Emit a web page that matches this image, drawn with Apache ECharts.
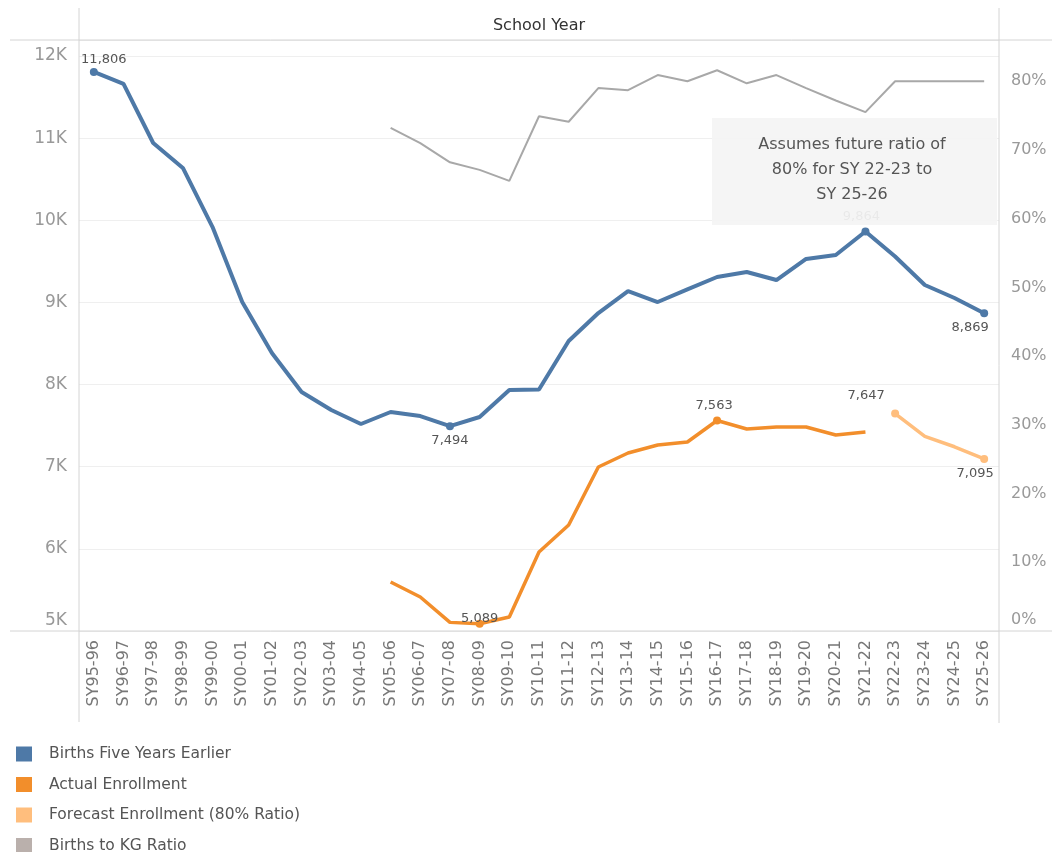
<!DOCTYPE html>
<html>
<head>
<meta charset="utf-8">
<script src="https://cdn.jsdelivr.net/npm/echarts@6/dist/echarts.min.js"></script>
<style>
html,body{margin:0;padding:0;background:#fff;}
#c{width:1052px;height:852px;}
</style>
</head>
<body>
<div id="c"></div>
<script>
var categories = ['SY95-96','SY96-97','SY97-98','SY98-99','SY99-00','SY00-01','SY01-02','SY02-03','SY03-04','SY04-05','SY05-06','SY06-07','SY07-08','SY08-09','SY09-10','SY10-11','SY11-12','SY12-13','SY13-14','SY14-15','SY15-16','SY16-17','SY17-18','SY18-19','SY19-20','SY20-21','SY21-22','SY22-23','SY23-24','SY24-25','SY25-26'];
var births = [11806,11660,10941,10637,9918,9005,8384,7910,7690,7520,7666,7617,7494,7605,7934,7940,8530,8871,9139,9005,9160,9310,9371,9273,9529,9578,9864,9559,9212,9054,8869];
var actual = [null,null,null,null,null,null,null,null,null,null,5597,5414,5105,5089,5170,5962,6290,6997,7167,7264,7301,7563,7459,7483,7483,7386,7423,null,null,null,null];
var forecast = [null,null,null,null,null,null,null,null,null,null,null,null,null,null,null,null,null,null,null,null,null,null,null,null,null,null,null,7647,7370,7243,7095];
var ratio = [null,null,null,null,null,null,null,null,null,null,0.732,0.710,0.682,0.671,0.655,0.749,0.741,0.790,0.787,0.809,0.800,0.816,0.797,0.809,0.790,0.772,0.755,0.80,0.80,0.80,0.80];
var leftTicks = [5000,6000,7000,8000,9000,10000,11000,12000];
var rightTicks = [0,0.1,0.2,0.3,0.4,0.5,0.6,0.7,0.8];
var seriesNames = ['Births Five Years Earlier','Actual Enrollment','Forecast Enrollment (80% Ratio)','Births to KG Ratio'];
var annotationText = 'Assumes future ratio of\n80% for SY 22-23 to\nSY 25-26';
var headerText = 'School Year';

// label placements (style only)
var birthsLabels = {0:{position:'top',offset:[10,2]},12:{position:'bottom',offset:[0,0]},26:{position:'top',offset:[-4,0]},30:{position:'bottom',offset:[-14,0]}};
var actualLabels = {13:{position:'top',offset:[0,9]},21:{position:'top',offset:[-3,0]}};
var forecastLabels = {27:{position:'top',offset:[-29,-3]},30:{position:'bottom',offset:[-9,0]}};

var fmt = function(v){ return v.toLocaleString('en-US'); };
var labelFont = {fontFamily:'DejaVu Sans',fontSize:13,color:'#555'};

function build(arr, labels, color){
  return arr.map(function(v,i){
    if (v === null) return null;
    if (labels[i]) {
      return {value:v, symbolSize:8, itemStyle:{color:color},
        label:Object.assign({show:true, formatter:function(p){return fmt(p.value);}, distance:4}, labelFont, labels[i])};
    }
    return v;
  });
}

var isMult = function(v, step){ return Math.abs(v/step - Math.round(v/step)) < 1e-6; };

var chart = echarts.init(document.getElementById('c'), null, {renderer:'canvas'});
var gridLeft = 79, gridRight = 999, gridTop = 40, gridBottom = 631;
var lineColor = '#d4d4d4';

chart.setOption({
  animation:false,
  backgroundColor:'#fff',
  grid:{left:gridLeft, right:1052-gridRight, top:gridTop, bottom:852-gridBottom, containLabel:false},
  xAxis:{
    type:'category', data:categories, boundaryGap:true,
    axisLine:{show:false}, axisTick:{show:false},
    axisLabel:{interval:0, rotate:90, margin:9, fontFamily:'DejaVu Sans', fontSize:16, color:'#777'}
  },
  yAxis:[{
    type:'value', min:5000, max:12195, interval:1000, position:'left',
    axisLine:{show:false}, axisTick:{show:false},
    splitLine:{show:true, lineStyle:{color:'#efefef', width:1}},
    axisLabel:{margin:12, fontFamily:'DejaVu Sans', fontSize:17, color:'#999',
      formatter:function(v){ if(!isMult(v,1000)) return ''; var s=(v/1000)+'K'; return v===leftTicks[0] ? '{m|'+s+'}' : s; },
      rich:{m:{fontFamily:'DejaVu Sans', fontSize:17, color:'#999', padding:[0,0,20,0]}}}
  },{
    type:'value', min:0, max:0.86, interval:0.1, position:'right',
    axisLine:{show:false}, axisTick:{show:false}, splitLine:{show:false},
    axisLabel:{margin:12, fontFamily:'DejaVu Sans', fontSize:16, color:'#999',
      formatter:function(v){ if(!isMult(v,0.1)) return ''; var s=Math.round(v*100)+'%'; return v===rightTicks[0] ? '{m|'+s+'}' : s; },
      rich:{m:{fontFamily:'DejaVu Sans', fontSize:16, color:'#999', padding:[0,0,22,0]}}}
  }],
  legend:{
    orient:'vertical', left:16, top:746, height:110, padding:0, itemWidth:16, itemHeight:15, itemGap:14.5,
    icon:'rect',
    textStyle:{fontFamily:'DejaVu Sans', fontSize:15.5, color:'#555', padding:[0,0,0,12]},
    data:[
      {name:seriesNames[0], itemStyle:{color:'#4e79a7'}},
      {name:seriesNames[1], itemStyle:{color:'#f28e2b'}},
      {name:seriesNames[2], itemStyle:{color:'#ffbe7d'}},
      {name:seriesNames[3], itemStyle:{color:'#bab0ac'}}
    ]
  },
  series:[
    {name:seriesNames[3], type:'line', yAxisIndex:1, data:ratio, symbol:'circle', symbolSize:0, showAllSymbol:true,
      lineStyle:{color:'#a8a8a8', width:2}, itemStyle:{color:'#bab0ac'}, z:2},
    {name:seriesNames[1], type:'line', yAxisIndex:0, data:build(actual, actualLabels, '#f28e2b'), symbol:'circle', symbolSize:0, showAllSymbol:true,
      lineStyle:{color:'#f28e2b', width:3.5}, itemStyle:{color:'#f28e2b'}, z:3},
    {name:seriesNames[2], type:'line', yAxisIndex:0, data:build(forecast, forecastLabels, '#ffbe7d'), symbol:'circle', symbolSize:0, showAllSymbol:true,
      lineStyle:{color:'#ffbe7d', width:3.5}, itemStyle:{color:'#ffbe7d'}, z:3},
    {name:seriesNames[0], type:'line', yAxisIndex:0, data:build(births, birthsLabels, '#4e79a7'), symbol:'circle', symbolSize:0, showAllSymbol:true,
      lineStyle:{color:'#4e79a7', width:4}, itemStyle:{color:'#4e79a7'}, z:4}
  ],
  graphic:[
    {type:'line', shape:{x1:10, y1:gridTop, x2:1052, y2:gridTop}, style:{stroke:lineColor, lineWidth:1}, z:1},
    {type:'line', shape:{x1:10, y1:gridBottom, x2:1052, y2:gridBottom}, style:{stroke:lineColor, lineWidth:1}, z:1},
    {type:'line', shape:{x1:gridLeft, y1:8, x2:gridLeft, y2:722}, style:{stroke:lineColor, lineWidth:1}, z:1},
    {type:'line', shape:{x1:gridRight, y1:8, x2:gridRight, y2:723}, style:{stroke:lineColor, lineWidth:1}, z:1},
    {type:'text', x:539, y:26, style:{text:headerText, fontFamily:'DejaVu Sans', fontSize:16, fill:'#333', align:'center', verticalAlign:'middle'}},
    {type:'rect', shape:{x:712, y:118, width:285, height:107}, style:{fill:'rgba(244,244,244,0.93)'}, z:100},
    {type:'text', x:852, y:170, z:101, style:{text:annotationText, fontFamily:'DejaVu Sans', fontSize:16, lineHeight:25, fill:'#555', align:'center', verticalAlign:'middle'}}
  ]
});
</script>
</body>
</html>
